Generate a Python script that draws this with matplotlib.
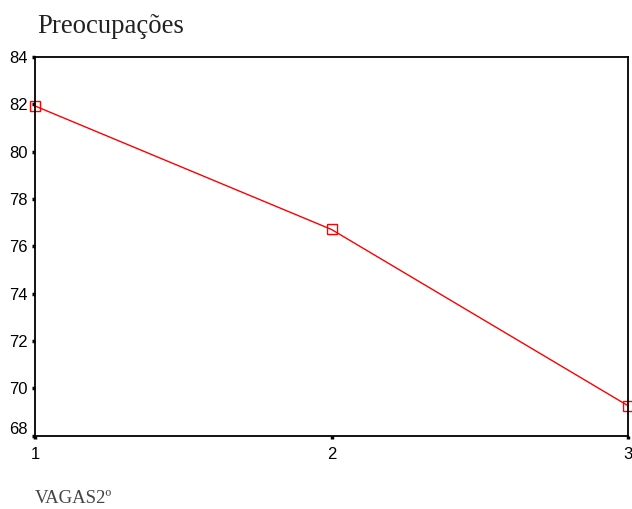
import matplotlib
matplotlib.use("Agg")
import matplotlib.pyplot as plt
import matplotlib.transforms as mtransforms

categories = [1, 2, 3]
values = [81.93, 76.71, 69.26]
yticks = [68, 70, 72, 74, 76, 78, 80, 82, 84]

fig = plt.figure(figsize=(6.32, 5.09), dpi=100)
ax = fig.add_axes([35/632, 1-435.5/509, (628-35)/632, (435.5-57)/509])
ax.plot(categories, values, color="red", linewidth=1.0, marker="s", markersize=6.5,
        markerfacecolor="none", markeredgecolor="red", markeredgewidth=1.0, clip_on=False)
ax.set_xlim(1, 3)
ax.set_ylim(68, 84)
ax.set_xticks(categories)
ax.set_yticks(yticks)
for s in ax.spines.values():
    s.set_linewidth(1.3)
ax.tick_params(direction="out", length=2, width=2.5, labelsize=12)
ax.tick_params(axis="x", pad=6)
ax.tick_params(axis="y", pad=3)
for lab in ax.get_xticklabels() + ax.get_yticklabels():
    lab.set_family("Liberation Sans")
# lowest y label sits slightly above its tick in the reference
ylabs = ax.get_yticklabels()
ylabs[0].set_transform(ylabs[0].get_transform() +
                       mtransforms.ScaledTranslation(0, 7/100, fig.dpi_scale_trans))
fig.text(37/632, 1-33/509, "Preocupações", family="Liberation Serif", fontsize=19.3,
         ha="left", va="baseline", color="#222222")
fig.text(35/632, 1-503/509, "VAGAS2º", family="Liberation Serif", fontsize=13.5,
         ha="left", va="baseline", color="#444444")
fig.savefig("out.png", dpi=100)
